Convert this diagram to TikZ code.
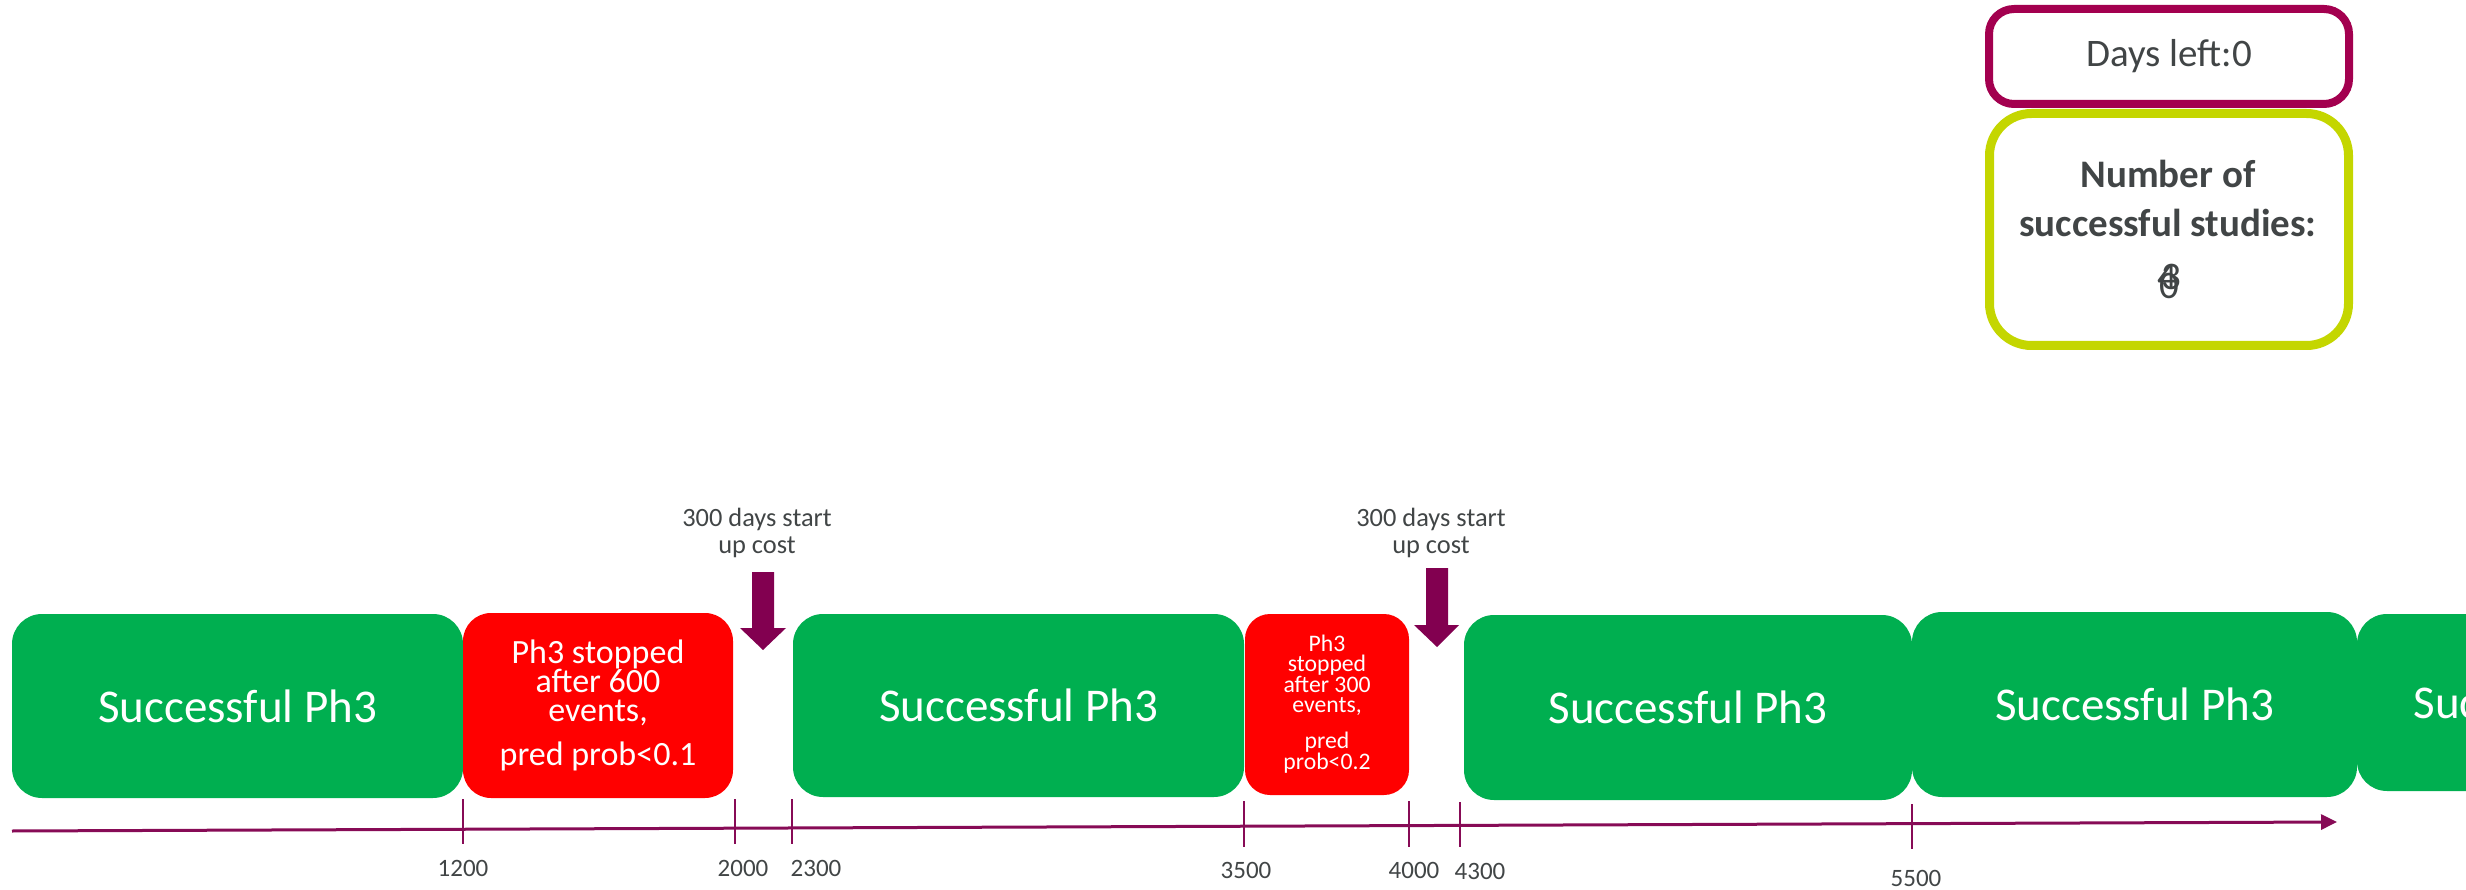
\documentclass[tikz,border=0pt]{standalone}
\usepackage{fontspec}
\setmainfont{Carlito}
\usetikzlibrary{arrows.meta}
\definecolor{pgreen}{HTML}{00AF50}
\definecolor{pred}{HTML}{FF0000}
\definecolor{marrow}{HTML}{820050}
\definecolor{maxis}{HTML}{870B56}
\definecolor{dborder}{HTML}{A3004F}
\definecolor{lime}{HTML}{C4D600}
\definecolor{tgray}{HTML}{414546}
\begin{document}
\begin{tikzpicture}[x=1pt,y=-1pt,
  gbox/.style={fill=pgreen, text=white, rounded corners=30pt, inner sep=0pt,
    font=\fontsize{47}{56}\selectfont},
  rbox/.style={fill=pred, text=white, rounded corners=28pt, inner sep=0pt, align=center},
  cost/.style={text=tgray, align=center, inner sep=0pt, font=\fontsize{26.4}{27.5}\selectfont},
  lab/.style={text=tgray, inner sep=0pt, font=\fontsize{25}{30}\selectfont},
  tick/.style={draw=maxis, line width=2.5pt},
  blockarrow/.style={fill=marrow}]
\useasboundingbox (0,0) rectangle (2466,890);
\clip (0,0) rectangle (2466,890);

% phase boxes
\node[gbox, minimum width=451pt, minimum height=184pt] (s1) at (237.5,706) {Successful Ph3};
\node[rbox, minimum width=270pt, minimum height=185pt, font=\fontsize{34}{29}\selectfont] (r1) at (598,705.5)
  {Ph3 stopped\\after 600\\events,\\[15pt]pred prob<0.1};
\node[gbox, minimum width=451pt, minimum height=183pt] (s2) at (1018.5,705.5) {Successful Ph3};
\node[rbox, rounded corners=25pt, minimum width=164pt, minimum height=181pt, font=\fontsize{23.7}{20}\selectfont] (r2) at (1327,704.5)
  {Ph3\\stopped\\after 300\\events,\\[16pt]pred\\prob<0.2};
\node[gbox, minimum width=448pt, minimum height=185pt] (s3) at (1688,707.5) {Successful Ph3};
\node[gbox, minimum width=445pt, minimum height=185pt] (s4) at (2134.5,704.5) {Successful Ph3};
\node[gbox, minimum width=392pt, minimum height=177pt] (s5) at (2553,702.5) {Successful Ph3};

% start-up cost arrows
\node[cost] (c1) at (757,533) {300 days start\\up cost};
\node[cost] (c2) at (1431,533) {300 days start\\up cost};
\fill[blockarrow] (752,572) -- (774,572) -- (774,628) -- (786,628) -- (763,650) -- (740,628) -- (752,628) -- cycle;
\fill[blockarrow] (1426,568) -- (1448,568) -- (1448,625) -- (1459,625) -- (1437,647) -- (1414,625) -- (1426,625) -- cycle;

% time axis
\coordinate (axs) at (12,831);
\coordinate (axe) at (2337,822);
\draw[draw=maxis, line width=3pt, -{Triangle[length=16pt,width=15pt]}] (axs) -- (axe);
\foreach \n/\x/\ya/\yb/\lx/\ly in {1200/463/799/844/463/876, 2000/735/799/844/743/876,
  2300/792/799/844/816/876, 3500/1244/801/847/1246/878, 4000/1409/801/847/1414/878,
  4300/1460/802/847/1480/879, 5500/1912/804/849/1916/886}{
  \coordinate (ta\n) at (\x,\ya);
  \coordinate (tb\n) at (\x,\yb);
  \draw[tick] (ta\n) -- (tb\n);
  \node[lab, anchor=base] (l\n) at (\lx,\ly) {\n};
}

% counters
\node[draw=dborder, line width=8pt, rounded corners=25pt, minimum width=360pt, minimum height=95pt,
  inner sep=0pt, text=tgray, font=\fontsize{39}{47}\selectfont] (days) at (2169,56.5) {Days left:0};
\node[draw=lime, line width=9pt, rounded corners=42pt, minimum width=359pt, minimum height=232pt,
  inner sep=0pt] (nbox) at (2169,229.5) {};
\node[text=tgray, align=center, inner sep=0pt, anchor=base, font=\bfseries\fontsize{39}{49}\selectfont]
  (ntxt) at (2168,237) {Number of\\successful studies:};
\node[text=tgray, inner sep=0pt, anchor=base, font=\fontsize{39}{47}\selectfont] (d4) at (2167,290) {4};
\node[text=tgray, inner sep=0pt, anchor=base, font=\fontsize{39}{47}\selectfont] (d3) at (2171,290) {3};
\node[text=tgray, inner sep=0pt, anchor=base, font=\fontsize{39}{47}\selectfont] (d0) at (2169,299) {0};
\end{tikzpicture}
\end{document}
